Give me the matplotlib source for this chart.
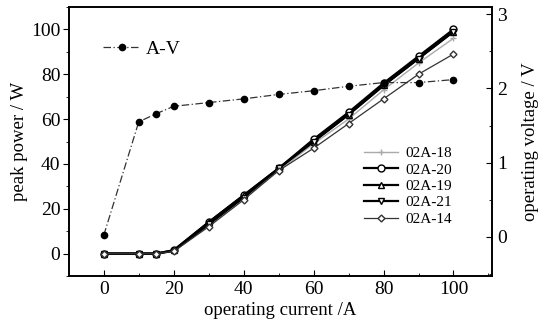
import numpy as np
import matplotlib
matplotlib.use("Agg")
import matplotlib.pyplot as plt
from matplotlib.ticker import MultipleLocator

plt.rcParams['font.family'] = ['Liberation Serif', 'DejaVu Serif']

# operating current (A)
current = [0, 10, 15, 20, 30, 40, 50, 60, 70, 80, 90, 100]

# peak power (W) of each laser bar
p_18 = [0, 0, 0, 1.0, 13, 25, 37, 49, 60, 73, 85, 96]
p_20 = [0, 0, 0, 1.5, 14, 26, 38, 51, 63, 76, 88, 100]
p_19 = [0, 0, 0, 1.5, 14, 26, 38, 50, 62, 75, 87, 99]
p_21 = [0, 0, 0, 1.2, 13, 25, 38, 50, 62, 75, 87, 99]
p_14 = [0, 0, 0, 1.0, 12, 24, 37, 47, 58, 69, 80, 89]

# operating voltage (V)
volt = [0.02, 1.55, 1.66, 1.76, 1.81, 1.86, 1.92, 1.97, 2.03, 2.08, 2.08, 2.12]

fig = plt.figure(figsize=(5.46, 3.31), dpi=100)
ax = fig.add_axes([0.126, 0.166, 0.775, 0.813])
ax2 = ax.twinx()

fs = 13.5
tfs = 14
ax.plot(current, p_18, color='#aaaaaa', lw=1.0, marker='+', ms=5, label='02A-18')
ax.plot(current, p_20, color='black', lw=1.6, marker='o', ms=5, mfc='white', label='02A-20')
ax.plot(current, p_19, color='black', lw=1.6, marker='^', ms=5, mfc='white', label='02A-19')
ax.plot(current, p_21, color='black', lw=1.6, marker='v', ms=5, mfc='white', label='02A-21')
ax.plot(current, p_14, color='#333333', lw=0.9, marker='D', ms=3.5, mfc='white', label='02A-14')

ax2.plot(current, volt, color='#333333', lw=0.9, ls=(0, (6, 2, 1, 2)), marker='o',
         ms=4.5, mfc='black', mec='black', label='A-V')

ax.set_xlim(-10, 111)
ax.set_ylim(-10, 110)
ax2.set_ylim(-0.53, 3.1)

ax.xaxis.set_major_locator(MultipleLocator(20))
ax.xaxis.set_minor_locator(MultipleLocator(10))
ax.yaxis.set_major_locator(MultipleLocator(20))
ax.yaxis.set_minor_locator(MultipleLocator(10))
ax2.yaxis.set_major_locator(MultipleLocator(1))
ax2.yaxis.set_minor_locator(MultipleLocator(0.5))

ax.tick_params(axis='x', which='both', direction='in', top=False, labelsize=tfs)
ax.tick_params(axis='x', which='major', length=4)
ax.tick_params(axis='x', which='minor', length=2)
ax.tick_params(axis='y', which='both', direction='out', labelsize=tfs, pad=2)
ax.tick_params(axis='y', which='major', length=4)
ax.tick_params(axis='y', which='minor', length=2)
ax2.tick_params(axis='y', which='both', direction='in', labelsize=tfs)
ax2.tick_params(axis='y', which='major', length=4)
ax2.tick_params(axis='y', which='minor', length=2)

for a in (ax, ax2):
    for s in a.spines.values():
        s.set_linewidth(1.2)

ax.set_xlabel('operating current /A', fontsize=fs, labelpad=3)
ax.set_ylabel('peak power / W', fontsize=fs, labelpad=2)
ax2.set_ylabel('operating voltage / V', fontsize=fs, labelpad=11)

ax.legend(loc='upper left', bbox_to_anchor=(0.68, 0.51), frameon=False, fontsize=11,
          handlelength=2.2, labelspacing=0.18, borderpad=0, handletextpad=0.5)
ax2.legend(loc='upper left', bbox_to_anchor=(0.04, 0.94), frameon=False, fontsize=14,
           handlelength=1.9, handletextpad=0.3)

fig.savefig('out.png', dpi=100)
